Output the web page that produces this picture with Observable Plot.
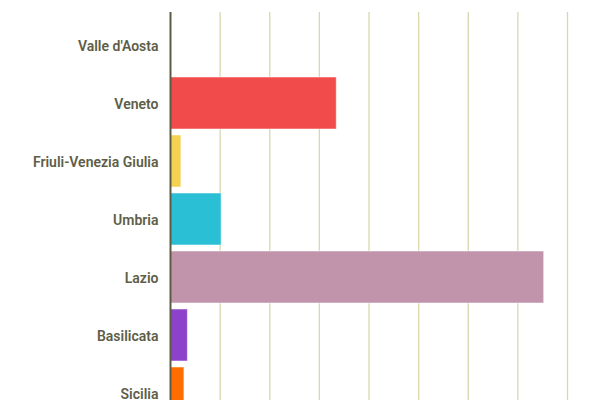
<!DOCTYPE html>
<html>
<head>
<meta charset="utf-8">
<script src="https://cdn.jsdelivr.net/npm/d3@7"></script>
<script src="https://cdn.jsdelivr.net/npm/@observablehq/plot@0.6"></script>
<style>
  html, body { margin: 0; padding: 0; background: #fff; overflow: hidden; }
  #chart svg { display: block; }
</style>
</head>
<body>
<div id="chart"></div>
<script>
const regions = ["Valle d'Aosta", "Veneto", "Friuli-Venezia Giulia", "Umbria", "Lazio", "Basilicata", "Sicilia"];
const values = [0, 3.35, 0.22, 1.03, 7.53, 0.35, 0.28];
const colors = ["#9e9e9e", "#f14b4b", "#f5d152", "#2bbfd5", "#c194ac", "#8c43c9", "#ff6d00"];
const xTicks = [0, 1, 2, 3, 4, 5, 6, 7, 8];

const data = regions.map((r, i) => ({region: r, value: values[i], color: colors[i]}));

const chart = Plot.plot({
  width: 600,
  height: 426,
  marginTop: 12,
  marginBottom: 0,
  marginLeft: 170,
  marginRight: 33,
  style: {fontFamily: "Roboto", fontSize: "14px", fontWeight: 500, color: "#5e5e48", background: "#fff"},
  x: {domain: [0, 8], axis: null},
  y: {domain: regions, padding: 0.1, label: null, tickSize: 0, tickPadding: 12},
  marks: [
    Plot.ruleX(xTicks.slice(1), {stroke: "#d9d7ae", strokeWidth: 1.3, strokeOpacity: 1}),
    Plot.barX(data, {x: "value", y: "region", fill: "color", stroke: "#fff", strokeOpacity: 0.5, strokeWidth: 1}),
    Plot.ruleX([0], {stroke: "#5c5c42", strokeWidth: 2}),
    Plot.axisY({tickSize: 0, tickPadding: 12, label: null, fill: "#5e5e48", fontWeight: 600, dy: 1})
  ]
});
document.getElementById("chart").appendChild(chart);
</script>
</body>
</html>
